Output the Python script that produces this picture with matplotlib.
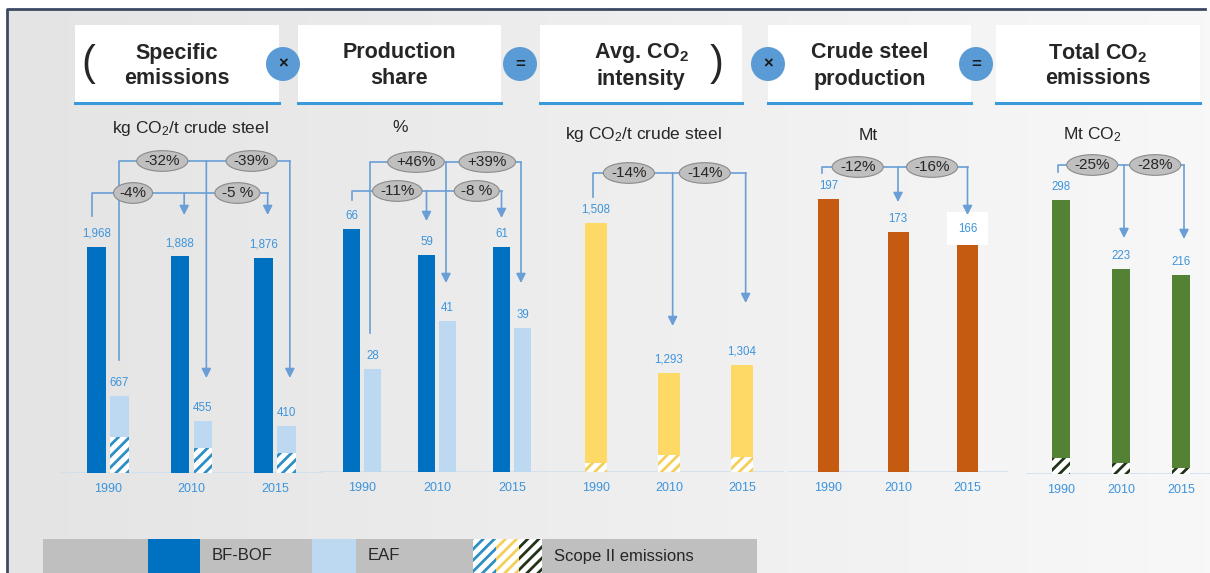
import numpy as np
import matplotlib.pyplot as plt
from matplotlib.patches import Rectangle, Circle
from matplotlib.colors import LinearSegmentedColormap
from matplotlib.transforms import blended_transform_factory

plt.rcParams['font.family'] = ['Liberation Sans', 'DejaVu Sans']
plt.rcParams['mathtext.fontset'] = 'custom'
plt.rcParams['mathtext.rm'] = 'Liberation Sans'
plt.rcParams['mathtext.it'] = 'Liberation Sans'
plt.rcParams['mathtext.bf'] = 'Liberation Sans:bold'
plt.rcParams['hatch.linewidth'] = 2.0

#* Datos
years = ['1990', '2010', '2015']
bfbof_emis = [1968, 1888, 1876]
eaf_emis = [667, 455, 410]
eaf_scope2 = [315, 220, 175]
bfbof_share = [66, 59, 61]
eaf_share = [28, 41, 39]
avg_intensity = [1508, 1293, 1304]
avg_scope2 = [13, 24, 22]
production = [197, 173, 166]
total_co2 = [298, 223, 216]
total_scope2 = [17, 12, 6.5]

emis_inner = ['-4%', '-5 %']
emis_outer = ['-32%', '-39%']
share_inner = ['-11%', '-8 %']
share_outer = ['+46%', '+39%']
intensity_chg = ['-14%', '-14%']
production_chg = ['-12%', '-16%']
total_chg = ['-25%', '-28%']

headers = [('Specific', 'emissions'), ('Production', 'share'),
           (r'Avg. CO$_\mathbf{2}$', 'intensity'), ('Crude steel', 'production'),
           (r'Total CO$_\mathbf{2}$', 'emissions')]
units = [r'kg CO$_2$/t crude steel', '%', r'kg CO$_2$/t crude steel', 'Mt', r'Mt CO$_2$']

BF = '#0070c0'
EAF = '#bdd9f2'
YEL = '#ffd966'
ORG = '#c55a11'
GRN = '#548235'
LBL = '#3d94dc'
ARR = '#6a9ed6'
TXT = '#262626'

W, H = 1210, 573
fig = plt.figure(figsize=(W / 100, H / 100), dpi=100)
bg = fig.add_axes([0, 0, 1, 1])
bg.set_xlim(0, W)
bg.set_ylim(H, 0)
bg.axis('off')

#* Fondo y marco
cmap = LinearSegmentedColormap.from_list('fondo', ['#e4e4e4', '#eeeeee', '#f8f8f8'])
bg.imshow(np.linspace(0, 1, 256)[None, :], cmap=cmap, aspect='auto',
          extent=[8, W, H, 10], zorder=0)
bg.plot([7, 7, 1205], [H, 9, 9], color='#3b4a63', lw=2, zorder=1)

#* Encabezados
boxes = [(75, 279), (298, 501), (540, 742), (768, 971), (996, 1200)]
for (x0, x1), (l1, l2) in zip(boxes, headers):
    bg.add_patch(Rectangle((x0, 25), x1 - x0, 77, fc='white', ec='none', zorder=2))
    bg.plot([x0, x1], [102.5, 102.5], color='#3a9ad9', lw=2.2, zorder=3)
    xc = (x0 + x1) / 2
    bg.text(xc, 53, l1, ha='center', va='center', fontsize=15.5, fontweight='bold', color=TXT, zorder=4)
    bg.text(xc, 79, l2, ha='center', va='center', fontsize=15.5, fontweight='bold', color=TXT, zorder=4)

bg.text(88, 64, '(', ha='center', va='center', fontsize=30, color=TXT, zorder=4)
bg.text(717, 64, ')', ha='center', va='center', fontsize=30, color=TXT, zorder=4)

for xc, sym in [(283, '×'), (520, '='), (768, '×'), (976, '=')]:
    bg.add_patch(Circle((xc, 64), 17, fc='#5b9bd5', ec='none', zorder=5))
    bg.text(xc, 64, sym, ha='center', va='center', fontsize=12, fontweight='bold',
            color='#1a1a1a', zorder=6)

for xc, yc, u in zip([190, 400, 643, 868, 1092], [128, 128, 134, 135, 135], units):
    bg.text(xc, yc, u, ha='center', va='center', fontsize=12.5, color=TXT)


#* Funcion para crear un panel de barras
def panel(c0, dx, base, ylo, yhi, top=140):
    left = c0 - 0.7 * dx
    ax = fig.add_axes([left / W, 1 - base / H, 3.4 * dx / W, (base - top) / H])
    ax.set_xlim(-0.7, 2.7)
    ax.set_ylim(ylo, yhi)
    ax.patch.set_visible(False)
    for s in ax.spines.values():
        s.set_visible(False)
    ax.set_yticks([])
    ax.set_xticks(range(3))
    ax.set_xticklabels(years)
    ax.tick_params(length=0, pad=7.5, labelsize=9, labelcolor=LBL)
    ax.axhline(ylo, xmin=0.04, xmax=0.96, color='#cfe0f1', lw=1.2, zorder=1)
    return ax


def etiquetas(ax, xs, vals, **kw):
    for x, v in zip(xs, vals):
        ax.annotate(f'{v:,}', (x, v), xytext=(0, 9.5), textcoords='offset points',
                    ha='center', va='center', fontsize=8.3, color=LBL, **kw)


def corchete(ax, x0, y0, yline, xa, tips, textos, xt):
    tr = blended_transform_factory(ax.transData, bg.transData)
    ax.plot([x0, x0, xa[-1]], [y0, yline, yline], color=ARR, lw=1.2,
            transform=tr, clip_on=False, zorder=3)
    for x, yt in zip(xa, tips):
        ax.annotate('', xy=(x, yt), xytext=(x, yline), xycoords=tr, textcoords=tr,
                    arrowprops=dict(arrowstyle='-|>,head_length=0.55,head_width=0.28',
                                    color=ARR, lw=1.2, shrinkA=0, shrinkB=0), zorder=3)
    for x, t in zip(xt, textos):
        ax.text(x, yline, t, transform=tr, ha='center', va='center', fontsize=11,
                color=TXT, zorder=6,
                bbox=dict(boxstyle='ellipse,pad=0.02', fc='#bfbfbf', ec='#8a8a8a', lw=0.8))


pos = np.arange(3)

#* Panel 1: emisiones especificas
off1 = 11.5 / 83.5
ax1 = panel(108, 83.5, 473, 0, 2900)
ax1.bar(pos - off1, bfbof_emis, 18.5 / 83.5, color=BF, zorder=2)
ax1.bar(pos + off1, eaf_emis, 18.5 / 83.5, color=EAF, zorder=2)
ax1.bar(pos + off1, eaf_scope2, 18.5 / 83.5, color='white', edgecolor='#2e8fc4',
        hatch='///', lw=0, zorder=2)
etiquetas(ax1, pos - off1, bfbof_emis)
etiquetas(ax1, pos + off1, eaf_emis)
corchete(ax1, off1, 360, 161, pos[1:] + off1 + 0.04, [378, 378], emis_outer, [0.65, 1.72])
corchete(ax1, -off1 - 0.05, 216, 193, pos[1:] - off1 + 0.05, [215, 215], emis_inner, [0.30, 1.55])

#* Panel 2: participacion de produccion
off2 = 10.5 / 75
ax2 = panel(362, 75, 472, 0, 90.2)
ax2.bar(pos - off2, bfbof_share, 17 / 75, color=BF, zorder=2)
ax2.bar(pos + off2, eaf_share, 17 / 75, color=EAF, zorder=2)
etiquetas(ax2, pos - off2, bfbof_share)
etiquetas(ax2, pos + off2, eaf_share)
corchete(ax2, off2 - 0.04, 333, 162, pos[1:] + off2 - 0.02, [283, 283], share_outer, [0.72, 1.67])
corchete(ax2, -off2, 200, 191, pos[1:] - off2, [221, 218], share_inner, [0.47, 1.53])

#* Panel 3: intensidad promedio
ax3 = panel(596, 73, 472, 1150, 1627.7)
ax3.bar(pos, np.array(avg_intensity) - 1150, 22 / 73, bottom=1150, color=YEL, zorder=2)
ax3.bar(pos, avg_scope2, 22 / 73, bottom=1150, color='white', edgecolor='#f5cf5a',
        hatch='///', lw=0, zorder=2)
etiquetas(ax3, pos, avg_intensity)
corchete(ax3, -0.04, 197, 173, pos[1:] + 0.05, [326, 303], intensity_chg, [0.45, 1.49])

#* Panel 4: produccion de acero crudo
ax4 = panel(828.5, 69.5, 472, 0, 239.5)
ax4.bar(pos, production, 21 / 69.5, color=ORG, zorder=2)
etiquetas(ax4, pos[:2], production[:2])
etiquetas(ax4, pos[2:], production[2:],
          bbox=dict(boxstyle='square,pad=0.9', fc='white', ec='none'))
corchete(ax4, -0.09, 173, 167, pos[1:], [202, 215], production_chg, [0.42, 1.49])

#* Panel 5: emisiones totales
ax5 = panel(1061, 60, 474, 0, 363.4)
ax5.bar(pos, total_co2, 18 / 60, color=GRN, zorder=2)
ax5.bar(pos, total_scope2, 18 / 60, color='white', edgecolor='#22331a',
        hatch='///', lw=0, zorder=2)
etiquetas(ax5, pos, total_co2)
corchete(ax5, -0.05, 172, 165, pos[1:] + 0.05, [238, 239], total_chg, [0.52, 1.57])

#* Leyenda
segs = [(43, 148, '#bfbfbf', None, None),
        (148, 200, BF, None, None),
        (200, 312, '#bfbfbf', None, 'BF-BOF'),
        (312, 356, EAF, None, None),
        (356, 473, '#bfbfbf', None, 'EAF'),
        (473, 496, 'white', '#2e8fc4', None),
        (496, 519, 'white', '#f5cf5a', None),
        (519, 542, 'white', '#22331a', None),
        (542, 757, '#bfbfbf', None, 'Scope II emissions')]
for x0, x1, fc, hc, lab in segs:
    if hc:
        bg.add_patch(Rectangle((x0, 539), x1 - x0, 34, fc=fc, ec=hc, hatch='///', lw=0, zorder=2))
    else:
        bg.add_patch(Rectangle((x0, 539), x1 - x0, 34, fc=fc, ec='none', zorder=2))
    if lab:
        bg.text(x0 + 12, 556, lab, ha='left', va='center', fontsize=12, color=TXT, zorder=3)

fig.savefig('out.png', dpi=100)
